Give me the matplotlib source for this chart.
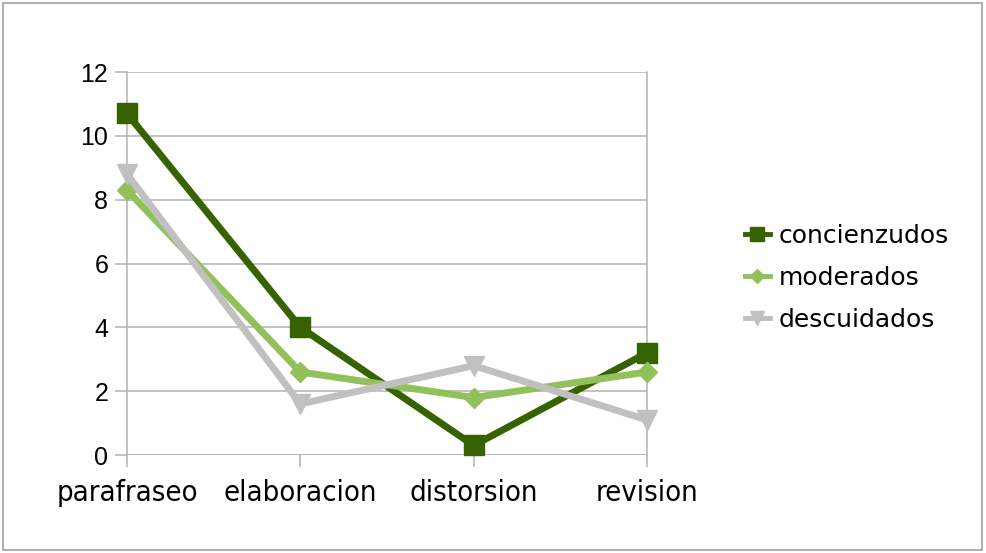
import matplotlib
matplotlib.use("Agg")
import matplotlib.pyplot as plt
from matplotlib.lines import Line2D
from matplotlib.font_manager import FontProperties

categories = ["parafraseo", "elaboracion", "distorsion", "revision"]
concienzudos = [10.7, 4.0, 0.3, 3.2]
moderados = [8.3, 2.6, 1.8, 2.6]
descuidados = [8.8, 1.6, 2.8, 1.1]
y_ticks = [0, 2, 4, 6, 8, 10, 12]

plt.rcParams["font.family"] = ["DejaVu Sans"]

fig = plt.figure(figsize=(9.86, 5.53), dpi=100)
fig.patch.set_facecolor("white")
# outer frame of the chart
frame = plt.Rectangle((0.003, 0.005), 0.993, 0.99, transform=fig.transFigure,
                      fill=False, edgecolor="#a0a0a0", linewidth=1.2)
fig.add_artist(frame)

ax = fig.add_axes([0.1288, 0.1772, 0.5274, 0.6926])

x = list(range(len(categories)))
series = [
    ("concienzudos", concienzudos, "#366300", "s", 14),
    ("moderados", moderados, "#92c05a", "D", 10),
    ("descuidados", descuidados, "#c0c0c0", "v", 14),
]
handles = []
for name, vals, col, mk, ms in series:
    ax.plot(x, vals, color=col, linewidth=5, marker=mk, markersize=ms,
            markerfacecolor=col, markeredgecolor=col, clip_on=False, zorder=3)
    handles.append(Line2D([], [], color=col, linewidth=3.5, marker=mk,
                          markersize=ms * 0.75, markerfacecolor=col,
                          markeredgecolor=col, label=name))

xfont = FontProperties(family="DejaVu Sans", stretch="condensed", size=21)
yfont = FontProperties(family="Liberation Sans", size=18)

ax.set_xlim(0, len(categories) - 1)
ax.set_ylim(0, 12)
ax.set_yticks(y_ticks)
ax.set_yticklabels([str(v) for v in y_ticks], fontproperties=yfont)
ax.set_xticks(x)
ax.set_xticklabels(categories, fontproperties=xfont)
ax.grid(axis="y", color="#b3b3b3", linewidth=1.1)
ax.grid(axis="x", visible=False)
for side in ["top", "bottom"]:
    ax.spines[side].set_visible(False)
for side in ["left", "right"]:
    ax.spines[side].set_color("#b3b3b3")
    ax.spines[side].set_linewidth(1.1)
ax.axhline(0, color="#b3b3b3", linewidth=1.1, zorder=1)
ax.tick_params(axis="both", colors="#b3b3b3", labelcolor="black",
               length=8.5, width=1.1)
ax.tick_params(axis="y", pad=5)
ax.tick_params(axis="x", pad=9)

leg = fig.legend(handles=handles, loc="upper left",
                 bbox_to_anchor=(0.753, 0.600), frameon=False,
                 fontsize=18, handlelength=1.0, handletextpad=0.35,
                 labelspacing=0.72, borderaxespad=0, borderpad=0.1)

fig.savefig("out.png", dpi=100)
